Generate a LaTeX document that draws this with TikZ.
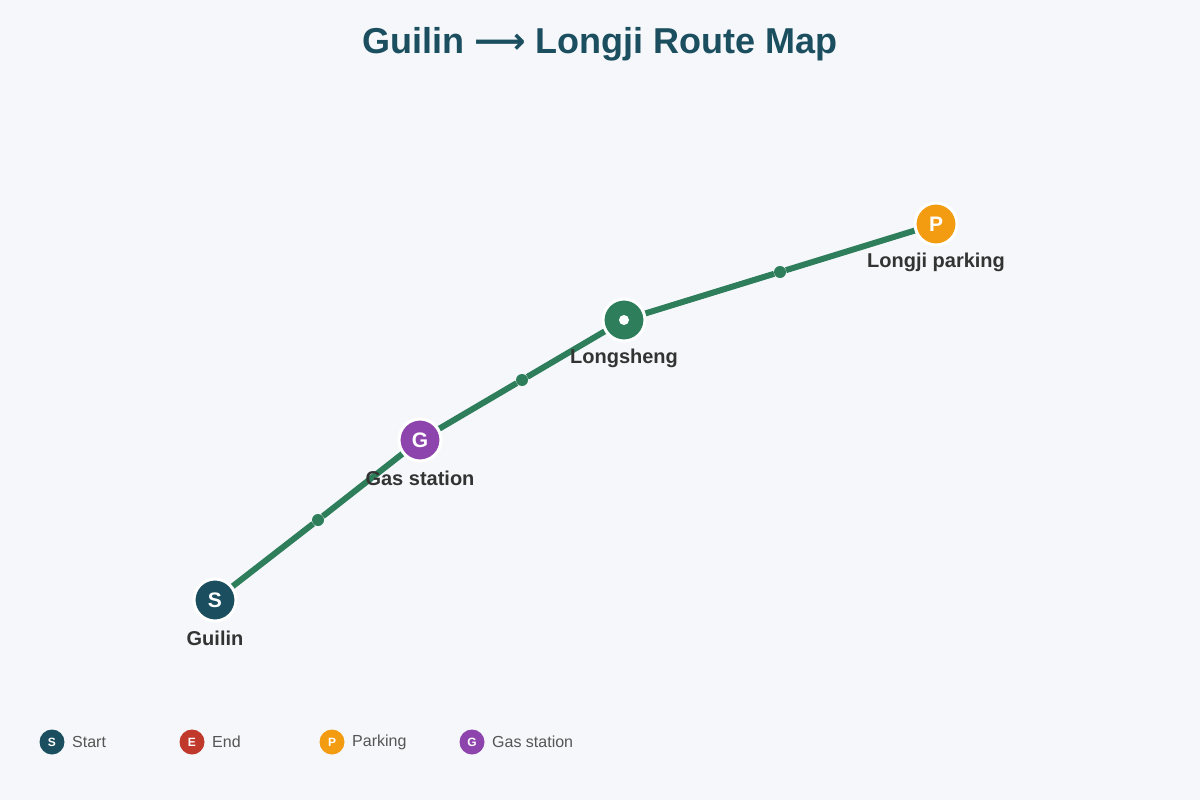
\documentclass[tikz,border=0pt]{standalone}
\usepackage{fontspec}
\setmainfont{Liberation Sans}
\newfontfamily\dejavu{DejaVu Sans}
\definecolor{bg}{HTML}{F5F7FA}
\definecolor{navy}{HTML}{1B4F5F}
\definecolor{route}{HTML}{2E7D5B}
\definecolor{endc}{HTML}{C0392B}
\definecolor{park}{HTML}{F39C12}
\definecolor{gas}{HTML}{8E44AD}
\definecolor{txt}{HTML}{333333}
\definecolor{leg}{HTML}{555555}
\begin{document}
\begin{tikzpicture}[x=1pt,y=-1pt,
  stop/.style={circle,minimum size=42pt,inner sep=0pt,draw=white,line width=3pt,text=white,font=\fontsize{21}{21}\selectfont\bfseries},
  mid/.style={circle,fill=route,minimum size=12pt,inner sep=0pt},
  lab/.style={font=\fontsize{20}{20}\selectfont\bfseries,text=txt},
  legc/.style={circle,minimum size=25pt,inner sep=0pt,text=white,font=\fontsize{12}{12}\selectfont\bfseries},
  legt/.style={anchor=west,inner sep=0pt,font=\fontsize{16}{16}\selectfont,text=leg},
  road/.style={route,line width=6pt}]
\fill[bg] (0,0) rectangle (1200,800);
\useasboundingbox (0,0) rectangle (1200,800);
\node[font=\fontsize{36}{36}\selectfont\bfseries,text=navy] (title) at (600,44) {Guilin {\dejavu\fontsize{36}{36}\selectfont ⟶} Longji Route Map};
\node[mid] (m1) at (318,520) {};
\node[mid] (m2) at (522,380) {};
\node[mid] (m3) at (780,272) {};
\coordinate (s) at (215,600);
\coordinate (g) at (420,440);
\coordinate (l) at (624,320);
\coordinate (p) at (936,224);
\draw[road] (s) -- (m1) -- (g) -- (m2) -- (l) -- (m3) -- (p);
\node[stop,fill=navy] (sn) at (s) {S};
\node[stop,fill=gas] (gn) at (g) {G};
\node[stop,fill=route] (ln) at (l) {};
\node[circle,fill=white,minimum size=10pt,inner sep=0pt] (ld) at (l) {};
\node[stop,fill=park] (pn) at (p) {P};
\node[lab] (sl) at (215,638) {Guilin};
\node[lab] (gl) at (420,478) {Gas station};
\node[lab] (ll) at (624,358) {Longsheng};
\node[lab] (pl) at (936,262) {Longji parking};
\node[legc,fill=navy] (k1) at (52,742) {S};
\node[legt] (t1) at (72,742) {Start};
\node[legc,fill=endc] (k2) at (192,742) {E};
\node[legt] (t2) at (212,742) {End};
\node[legc,fill=park] (k3) at (332,742) {P};
\node[legt] (t3) at (352,742) {Parking};
\node[legc,fill=gas] (k4) at (472,742) {G};
\node[legt] (t4) at (492,742) {Gas station};
\end{tikzpicture}
\end{document}
